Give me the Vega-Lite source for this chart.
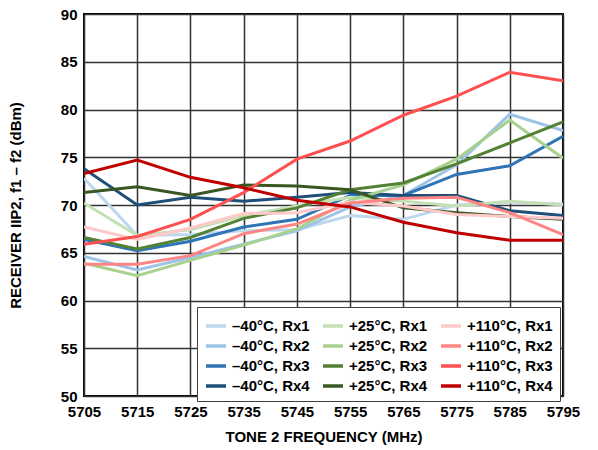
{
  "$schema": "https://vega.github.io/schema/vega-lite/v6.json",
  "width": 479,
  "height": 382,
  "autosize": {"type": "none"},
  "padding": {"left": 84, "top": 14, "right": 35, "bottom": 54},
  "background": "white",
  "config": {
    "font": "Liberation Sans",
    "view": {"stroke": "black", "strokeWidth": 2},
    "axis": {"labelFont": "Liberation Sans", "titleFont": "Liberation Sans", "labelFontWeight": "bold", "titleFontWeight": "bold", "labelColor": "black", "titleColor": "black", "gridColor": "#333333", "gridWidth": 1.5, "gridOpacity": 1, "domain": false, "ticks": false}
  },
  "data": {"values": [
    {"f":5705,"v":72.8,"s":"–40°C, Rx1"},{"f":5715,"v":66.8,"s":"–40°C, Rx1"},{"f":5725,"v":66.9,"s":"–40°C, Rx1"},{"f":5735,"v":67.3,"s":"–40°C, Rx1"},{"f":5745,"v":67.4,"s":"–40°C, Rx1"},{"f":5755,"v":68.9,"s":"–40°C, Rx1"},{"f":5765,"v":68.5,"s":"–40°C, Rx1"},{"f":5775,"v":70.0,"s":"–40°C, Rx1"},{"f":5785,"v":70.3,"s":"–40°C, Rx1"},{"f":5795,"v":70.1,"s":"–40°C, Rx1"},
    {"f":5705,"v":64.6,"s":"–40°C, Rx2"},{"f":5715,"v":63.2,"s":"–40°C, Rx2"},{"f":5725,"v":64.5,"s":"–40°C, Rx2"},{"f":5735,"v":65.9,"s":"–40°C, Rx2"},{"f":5745,"v":67.3,"s":"–40°C, Rx2"},{"f":5755,"v":69.8,"s":"–40°C, Rx2"},{"f":5765,"v":71.0,"s":"–40°C, Rx2"},{"f":5775,"v":74.2,"s":"–40°C, Rx2"},{"f":5785,"v":79.5,"s":"–40°C, Rx2"},{"f":5795,"v":77.8,"s":"–40°C, Rx2"},
    {"f":5705,"v":66.4,"s":"–40°C, Rx3"},{"f":5715,"v":65.2,"s":"–40°C, Rx3"},{"f":5725,"v":66.2,"s":"–40°C, Rx3"},{"f":5735,"v":67.7,"s":"–40°C, Rx3"},{"f":5745,"v":68.5,"s":"–40°C, Rx3"},{"f":5755,"v":71.0,"s":"–40°C, Rx3"},{"f":5765,"v":71.0,"s":"–40°C, Rx3"},{"f":5775,"v":73.2,"s":"–40°C, Rx3"},{"f":5785,"v":74.1,"s":"–40°C, Rx3"},{"f":5795,"v":77.2,"s":"–40°C, Rx3"},
    {"f":5705,"v":73.8,"s":"–40°C, Rx4"},{"f":5715,"v":70.0,"s":"–40°C, Rx4"},{"f":5725,"v":70.8,"s":"–40°C, Rx4"},{"f":5735,"v":70.4,"s":"–40°C, Rx4"},{"f":5745,"v":70.8,"s":"–40°C, Rx4"},{"f":5755,"v":71.3,"s":"–40°C, Rx4"},{"f":5765,"v":71.0,"s":"–40°C, Rx4"},{"f":5775,"v":71.0,"s":"–40°C, Rx4"},{"f":5785,"v":69.4,"s":"–40°C, Rx4"},{"f":5795,"v":68.9,"s":"–40°C, Rx4"},
    {"f":5705,"v":70.2,"s":"+25°C, Rx1"},{"f":5715,"v":66.8,"s":"+25°C, Rx1"},{"f":5725,"v":67.4,"s":"+25°C, Rx1"},{"f":5735,"v":68.9,"s":"+25°C, Rx1"},{"f":5745,"v":69.9,"s":"+25°C, Rx1"},{"f":5755,"v":70.8,"s":"+25°C, Rx1"},{"f":5765,"v":70.4,"s":"+25°C, Rx1"},{"f":5775,"v":69.9,"s":"+25°C, Rx1"},{"f":5785,"v":70.4,"s":"+25°C, Rx1"},{"f":5795,"v":70.0,"s":"+25°C, Rx1"},
    {"f":5705,"v":63.9,"s":"+25°C, Rx2"},{"f":5715,"v":62.6,"s":"+25°C, Rx2"},{"f":5725,"v":64.2,"s":"+25°C, Rx2"},{"f":5735,"v":65.8,"s":"+25°C, Rx2"},{"f":5745,"v":67.5,"s":"+25°C, Rx2"},{"f":5755,"v":70.5,"s":"+25°C, Rx2"},{"f":5765,"v":72.1,"s":"+25°C, Rx2"},{"f":5775,"v":74.8,"s":"+25°C, Rx2"},{"f":5785,"v":78.9,"s":"+25°C, Rx2"},{"f":5795,"v":74.9,"s":"+25°C, Rx2"},
    {"f":5705,"v":66.6,"s":"+25°C, Rx3"},{"f":5715,"v":65.4,"s":"+25°C, Rx3"},{"f":5725,"v":66.6,"s":"+25°C, Rx3"},{"f":5735,"v":68.6,"s":"+25°C, Rx3"},{"f":5745,"v":69.7,"s":"+25°C, Rx3"},{"f":5755,"v":71.6,"s":"+25°C, Rx3"},{"f":5765,"v":72.3,"s":"+25°C, Rx3"},{"f":5775,"v":74.3,"s":"+25°C, Rx3"},{"f":5785,"v":76.5,"s":"+25°C, Rx3"},{"f":5795,"v":78.7,"s":"+25°C, Rx3"},
    {"f":5705,"v":71.3,"s":"+25°C, Rx4"},{"f":5715,"v":71.9,"s":"+25°C, Rx4"},{"f":5725,"v":71.0,"s":"+25°C, Rx4"},{"f":5735,"v":72.1,"s":"+25°C, Rx4"},{"f":5745,"v":72.0,"s":"+25°C, Rx4"},{"f":5755,"v":71.6,"s":"+25°C, Rx4"},{"f":5765,"v":69.7,"s":"+25°C, Rx4"},{"f":5775,"v":69.2,"s":"+25°C, Rx4"},{"f":5785,"v":68.8,"s":"+25°C, Rx4"},{"f":5795,"v":68.5,"s":"+25°C, Rx4"},
    {"f":5705,"v":67.7,"s":"+110°C, Rx1"},{"f":5715,"v":66.4,"s":"+110°C, Rx1"},{"f":5725,"v":67.6,"s":"+110°C, Rx1"},{"f":5735,"v":69.1,"s":"+110°C, Rx1"},{"f":5745,"v":69.2,"s":"+110°C, Rx1"},{"f":5755,"v":70.3,"s":"+110°C, Rx1"},{"f":5765,"v":69.9,"s":"+110°C, Rx1"},{"f":5775,"v":69.0,"s":"+110°C, Rx1"},{"f":5785,"v":68.8,"s":"+110°C, Rx1"},{"f":5795,"v":68.6,"s":"+110°C, Rx1"},
    {"f":5705,"v":63.8,"s":"+110°C, Rx2"},{"f":5715,"v":63.8,"s":"+110°C, Rx2"},{"f":5725,"v":64.7,"s":"+110°C, Rx2"},{"f":5735,"v":67.0,"s":"+110°C, Rx2"},{"f":5745,"v":68.0,"s":"+110°C, Rx2"},{"f":5755,"v":70.2,"s":"+110°C, Rx2"},{"f":5765,"v":70.7,"s":"+110°C, Rx2"},{"f":5775,"v":70.8,"s":"+110°C, Rx2"},{"f":5785,"v":69.2,"s":"+110°C, Rx2"},{"f":5795,"v":66.9,"s":"+110°C, Rx2"},
    {"f":5705,"v":65.9,"s":"+110°C, Rx3"},{"f":5715,"v":66.7,"s":"+110°C, Rx3"},{"f":5725,"v":68.5,"s":"+110°C, Rx3"},{"f":5735,"v":71.3,"s":"+110°C, Rx3"},{"f":5745,"v":74.8,"s":"+110°C, Rx3"},{"f":5755,"v":76.7,"s":"+110°C, Rx3"},{"f":5765,"v":79.4,"s":"+110°C, Rx3"},{"f":5775,"v":81.4,"s":"+110°C, Rx3"},{"f":5785,"v":83.9,"s":"+110°C, Rx3"},{"f":5795,"v":83.0,"s":"+110°C, Rx3"},
    {"f":5705,"v":73.3,"s":"+110°C, Rx4"},{"f":5715,"v":74.7,"s":"+110°C, Rx4"},{"f":5725,"v":72.9,"s":"+110°C, Rx4"},{"f":5735,"v":71.8,"s":"+110°C, Rx4"},{"f":5745,"v":70.5,"s":"+110°C, Rx4"},{"f":5755,"v":69.8,"s":"+110°C, Rx4"},{"f":5765,"v":68.2,"s":"+110°C, Rx4"},{"f":5775,"v":67.1,"s":"+110°C, Rx4"},{"f":5785,"v":66.3,"s":"+110°C, Rx4"},{"f":5795,"v":66.3,"s":"+110°C, Rx4"}
  ]},
  "mark": {"type": "line", "strokeWidth": 3, "clip": true},
  "encoding": {
    "x": {"field": "f", "type": "quantitative", "scale": {"domain": [5705, 5795], "nice": false, "zero": false},
      "axis": {"title": "TONE 2 FREQUENCY (MHz)", "values": [5705,5715,5725,5735,5745,5755,5765,5775,5785,5795], "format": "d", "labelFontSize": 15, "titleFontSize": 15, "labelPadding": 8, "titlePadding": 10, "labelFlush": false}},
    "y": {"field": "v", "type": "quantitative", "scale": {"domain": [50, 90], "nice": false, "zero": false},
      "axis": {"title": "RECEIVER IIP2, f1 – f2 (dBm)", "values": [50,55,60,65,70,75,80,85,90], "labelFontSize": 15, "titleFontSize": 15, "labelPadding": 7, "titlePadding": 37, "labelFlush": false}},
    "color": {"field": "s", "type": "nominal",
      "scale": {
        "domain": ["–40°C, Rx1","–40°C, Rx2","–40°C, Rx3","–40°C, Rx4","+25°C, Rx1","+25°C, Rx2","+25°C, Rx3","+25°C, Rx4","+110°C, Rx1","+110°C, Rx2","+110°C, Rx3","+110°C, Rx4"],
        "range": ["#bdd7ee","#9dc3e6","#2e75b6","#1f4e79","#c5e0b4","#a9d18e","#548235","#385723","#ffc9c9","#ff8585","#ff5050","#c00000"]},
      "legend": {"title": null, "orient": "none", "legendX": 113, "legendY": 293, "columns": 3, "fillColor": "white", "strokeColor": "#404040", "padding": 7, "symbolType": "stroke", "symbolStrokeWidth": 3.5, "symbolSize": 400, "labelFontSize": 15, "labelFontWeight": "bold", "labelFont": "Liberation Sans", "labelColor": "black", "labelOffset": 4, "rowPadding": -1, "columnPadding": 6}}
  }
}
